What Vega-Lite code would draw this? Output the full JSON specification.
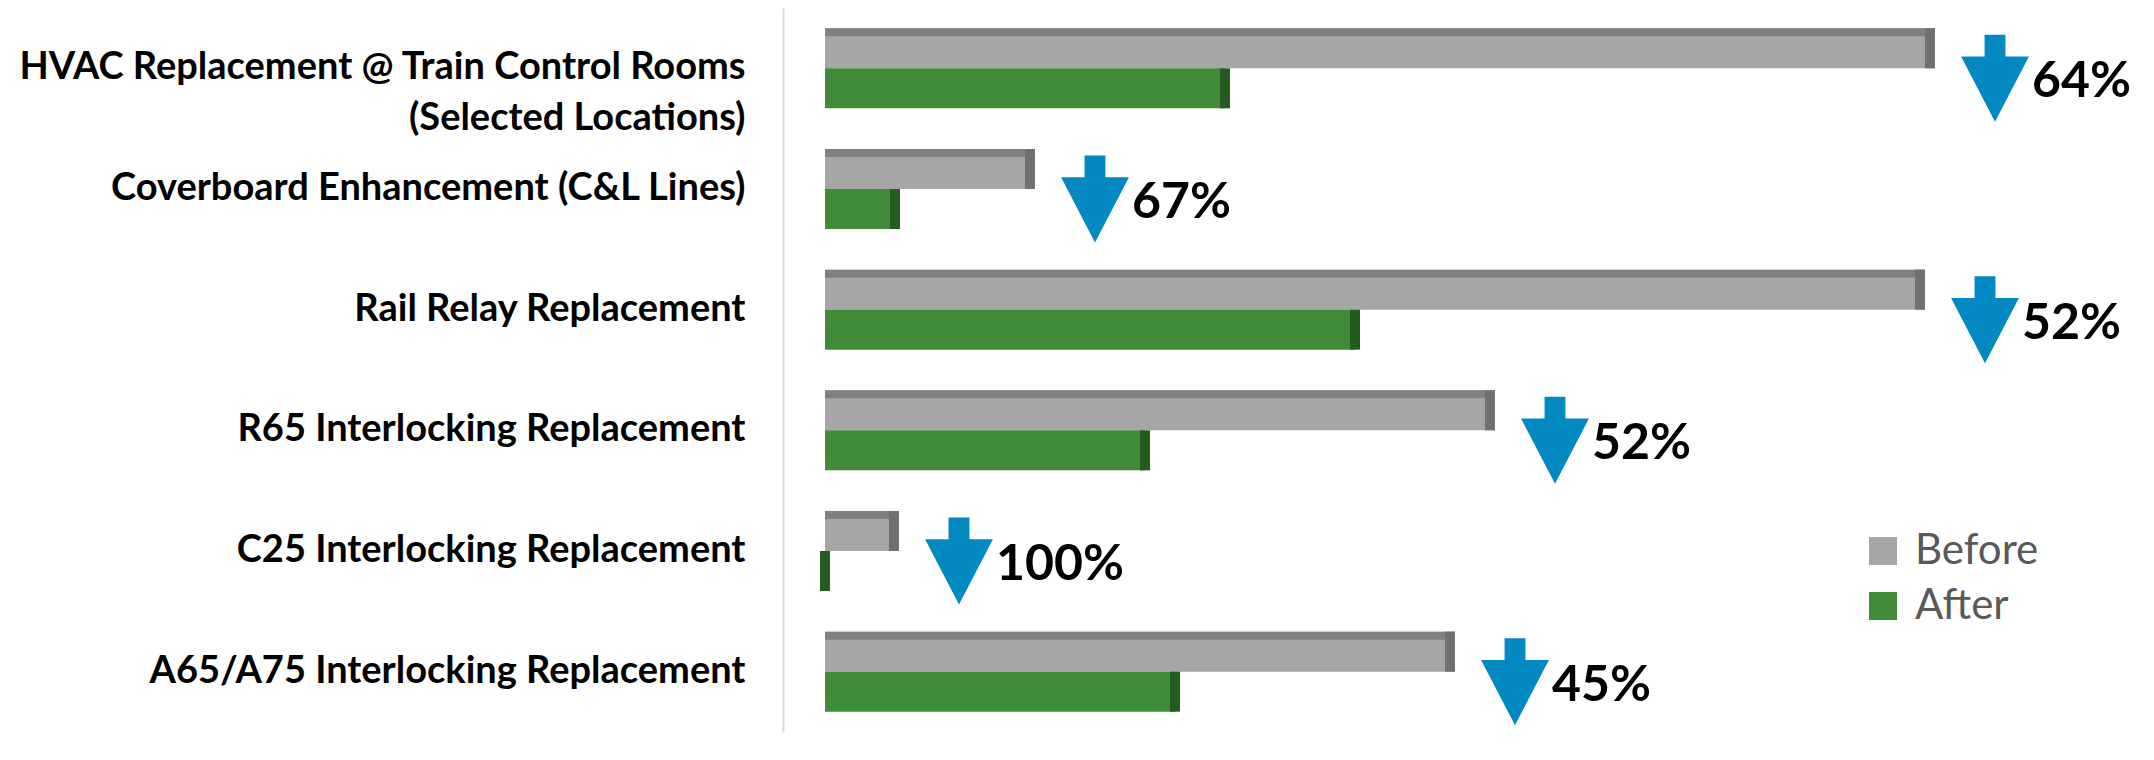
{
  "$schema": "https://vega.github.io/schema/vega-lite/v6.json",
  "width": 1357,
  "height": 724,
  "autosize": {"type": "none"},
  "padding": {"left": 783, "top": 8, "right": 14, "bottom": 28},
  "background": "white",
  "config": {"view": {"stroke": null}, "font": "Lato"},
  "data": {
    "values": [
      {"project": "HVAC Replacement @ Train Control Rooms (Selected Locations)", "series": "Before", "value": 111, "pct": "64%"},
      {"project": "HVAC Replacement @ Train Control Rooms (Selected Locations)", "series": "After", "value": 40},
      {"project": "Coverboard Enhancement (C&L Lines)", "series": "Before", "value": 21, "pct": "67%"},
      {"project": "Coverboard Enhancement (C&L Lines)", "series": "After", "value": 7},
      {"project": "Rail Relay Replacement", "series": "Before", "value": 110, "pct": "52%"},
      {"project": "Rail Relay Replacement", "series": "After", "value": 53},
      {"project": "R65 Interlocking Replacement", "series": "Before", "value": 67, "pct": "52%"},
      {"project": "R65 Interlocking Replacement", "series": "After", "value": 32},
      {"project": "C25 Interlocking Replacement", "series": "Before", "value": 7.4, "pct": "100%"},
      {"project": "C25 Interlocking Replacement", "series": "After", "value": 0},
      {"project": "A65/A75 Interlocking Replacement", "series": "Before", "value": 63, "pct": "45%"},
      {"project": "A65/A75 Interlocking Replacement", "series": "After", "value": 35}
    ]
  },
  "encoding": {
    "y": {
      "field": "project",
      "type": "nominal",
      "sort": ["HVAC Replacement @ Train Control Rooms (Selected Locations)", "Coverboard Enhancement (C&L Lines)", "Rail Relay Replacement", "R65 Interlocking Replacement", "C25 Interlocking Replacement", "A65/A75 Interlocking Replacement"],
      "scale": {"paddingInner": 0, "paddingOuter": 0},
      "axis": {
        "title": null,
        "ticks": false,
        "grid": false,
        "domain": true,
        "domainColor": "#d9d9d9",
        "domainWidth": 2,
        "labelFont": "Lato",
        "labelFontWeight": "bold",
        "labelFontSize": 38,
        "labelColor": "#000000",
        "labelPadding": 38,
        "labelLimit": 0,
        "labelLineHeight": 51,
        "labelExpr": "datum.value == 'HVAC Replacement @ Train Control Rooms (Selected Locations)' ? ['HVAC Replacement @ Train Control Rooms', '(Selected Locations)'] : datum.label"
      }
    }
  },
  "layer": [
    {
      "transform": [{"filter": "datum.series == 'Before'"}],
      "mark": {"type": "bar", "height": 40, "yOffset": -20},
      "encoding": {
        "x": {"field": "value", "type": "quantitative", "scale": {"domain": [-4.2, 131.5], "nice": false, "zero": false}, "axis": null},
        "x2": {"datum": 0},
        "color": {
          "field": "series",
          "type": "nominal",
          "scale": {"domain": ["Before", "After"], "range": ["#a6a6a6", "#3f8b37"]},
          "legend": {
            "title": null,
            "orient": "none",
            "legendX": 1079,
            "legendY": 522,
            "symbolType": "square",
            "symbolSize": 784,
            "symbolStrokeWidth": 0,
            "labelFont": "Lato",
            "labelFontSize": 42,
            "labelColor": "#595959",
            "labelOffset": 11,
            "rowPadding": 13,
            "padding": 0
          }
        }
      }
    },
    {
      "transform": [{"filter": "datum.series == 'Before'"}],
      "mark": {"type": "bar", "height": 8, "yOffset": -36, "color": "#808080"},
      "encoding": {
        "x": {"field": "value", "type": "quantitative"},
        "x2": {"datum": 0}
      }
    },
    {
      "transform": [{"filter": "datum.series == 'Before'"}],
      "mark": {"type": "tick", "size": 40, "thickness": 10, "yOffset": -20, "xOffset": -5, "color": "#707070", "opacity": 1},
      "encoding": {
        "x": {"field": "value", "type": "quantitative"}
      }
    },
    {
      "transform": [{"filter": "datum.series == 'After'"}],
      "mark": {"type": "bar", "height": 40, "yOffset": 20},
      "encoding": {
        "x": {"field": "value", "type": "quantitative"},
        "x2": {"datum": 0},
        "color": {"field": "series", "type": "nominal"}
      }
    },
    {
      "transform": [{"filter": "datum.series == 'After'"}],
      "mark": {"type": "tick", "size": 40, "thickness": 10, "yOffset": 20, "xOffset": 0, "color": "#245c20", "opacity": 1},
      "encoding": {
        "x": {"field": "value", "type": "quantitative"}
      }
    },
    {
      "transform": [{"filter": "datum.series == 'Before'"}],
      "mark": {
        "type": "point",
        "shape": "M -0.24 -1 L 0.24 -1 L 0.24 -0.5 L 0.78 -0.5 L 0 1 L -0.78 -0.5 L -0.24 -0.5 Z",
        "size": 7569,
        "filled": true,
        "color": "#0289c2",
        "opacity": 1,
        "strokeWidth": 0,
        "xOffset": 60,
        "yOffset": 10
      },
      "encoding": {
        "x": {"field": "value", "type": "quantitative"}
      }
    },
    {
      "transform": [{"filter": "datum.series == 'Before'"}],
      "mark": {
        "type": "text",
        "align": "left",
        "baseline": "middle",
        "font": "Lato",
        "fontWeight": "bold",
        "fontSize": 50,
        "color": "#000000",
        "xOffset": 97,
        "yOffset": 14
      },
      "encoding": {
        "x": {"field": "value", "type": "quantitative"},
        "text": {"field": "pct"}
      }
    }
  ]
}
